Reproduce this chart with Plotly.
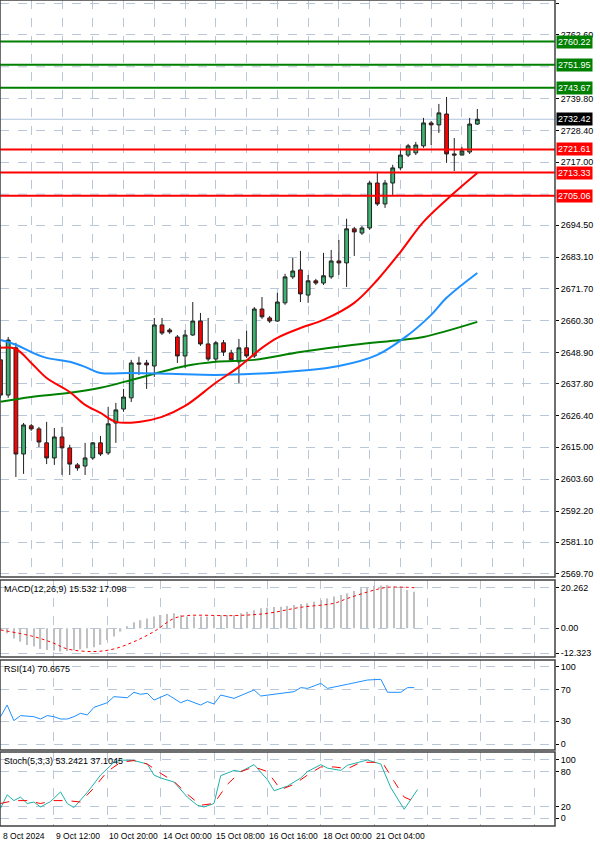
import plotly.graph_objects as go

# ---- price candles (4h) ----
opens = [2646.3, 2633.7, 2650.6, 2612.6, 2622.7, 2621.6, 2616.6, 2611.2, 2618.7, 2614.8,
         2608.7, 2608.3, 2611.2, 2616.6, 2613.0, 2623.7, 2628.7, 2632.7, 2645.2, 2645.2,
         2644.1, 2658.8, 2657.0, 2654.5, 2647.7, 2655.2, 2660.2, 2652.0, 2646.6, 2652.4,
         2648.8, 2645.6, 2650.6, 2647.7, 2664.5, 2661.3, 2660.2, 2666.7, 2676.0, 2678.5,
         2669.5, 2674.6, 2673.8, 2676.0, 2681.7, 2681.0, 2693.2, 2691.7, 2693.5, 2709.6,
         2702.1, 2709.6, 2715.0, 2719.6, 2720.4, 2722.9, 2731.1, 2730.4, 2734.3, 2720.0,
         2719.6, 2720.7, 2730.7]
highs = [2651.7, 2654.5, 2652.4, 2623.7, 2623.4, 2622.3, 2624.1, 2621.9, 2622.3, 2615.9,
         2609.4, 2616.6, 2616.9, 2619.1, 2629.5, 2630.9, 2635.9, 2646.3, 2647.4, 2646.3,
         2661.3, 2661.3, 2657.7, 2655.2, 2657.0, 2667.0, 2663.1, 2661.3, 2653.1, 2653.4,
         2649.9, 2653.8, 2656.7, 2665.2, 2668.8, 2662.0, 2670.3, 2677.1, 2682.8, 2685.3,
         2676.7, 2675.3, 2684.6, 2685.6, 2689.2, 2696.8, 2693.9, 2694.2, 2710.3, 2713.6,
         2710.7, 2716.1, 2721.4, 2723.6, 2724.3, 2732.9, 2731.8, 2737.9, 2740.4, 2725.7,
         2722.5, 2732.9, 2736.1]
lows = [2632.7, 2632.7, 2604.4, 2605.5, 2620.9, 2615.1, 2609.0, 2608.7, 2605.1, 2605.1,
        2606.6, 2605.1, 2610.5, 2611.9, 2612.3, 2616.6, 2627.7, 2631.2, 2640.9, 2635.9,
        2640.2, 2655.2, 2655.6, 2645.2, 2643.4, 2654.9, 2651.3, 2645.9, 2645.9, 2647.7,
        2645.6, 2638.0, 2647.0, 2647.0, 2661.0, 2659.5, 2659.9, 2666.0, 2675.3, 2667.0,
        2666.7, 2673.1, 2673.1, 2675.3, 2676.7, 2672.4, 2683.5, 2691.0, 2692.8, 2701.4,
        2700.7, 2705.0, 2714.3, 2718.9, 2719.6, 2722.2, 2723.2, 2727.5, 2716.8, 2713.9,
        2720.4, 2720.0, 2730.4]
closes = [2633.7, 2653.4, 2612.6, 2623.0, 2621.6, 2616.9, 2611.2, 2618.7, 2614.8, 2609.0,
          2607.6, 2611.2, 2616.6, 2612.6, 2623.4, 2628.4, 2633.0, 2645.2, 2644.8, 2644.5,
          2658.8, 2655.9, 2656.3, 2647.7, 2655.2, 2660.2, 2652.0, 2646.6, 2652.4, 2649.1,
          2646.3, 2650.6, 2647.7, 2664.5, 2661.7, 2660.2, 2667.0, 2676.0, 2678.1, 2669.9,
          2674.6, 2673.8, 2676.4, 2681.7, 2681.0, 2693.2, 2692.1, 2693.5, 2709.6, 2702.1,
          2709.6, 2715.0, 2719.6, 2722.9, 2723.2, 2731.1, 2730.4, 2734.7, 2720.0, 2719.6,
          2721.1, 2730.7, 2732.4]
idx = list(range(len(opens)))

# moving averages (index, value)
ma_red_x = [0, 2, 4, 6, 9, 11, 13, 15, 18, 21, 24, 28, 31, 34, 36, 39, 42, 46, 49, 52, 55, 59, 62]
ma_red_y = [2650.6, 2650.2, 2645.2, 2639.8, 2634.8, 2630.2, 2627.3, 2624.1, 2624.1, 2625.9, 2629.8,
            2638.1, 2643.8, 2650.6, 2654.2, 2657.7, 2660.6, 2666.7, 2674.9, 2684.9, 2695.7, 2706.1, 2713.2]
ma_blue_x = [0, 2, 4, 6, 9, 11, 13, 17, 22, 28, 33, 39, 44, 49, 53, 56, 58, 62]
ma_blue_y = [2653.4, 2651.7, 2649.1, 2647.0, 2645.6, 2643.8, 2641.6, 2641.6, 2641.3, 2640.9,
             2641.3, 2642.4, 2644.1, 2648.1, 2655.2, 2662.4, 2668.5, 2677.4]
ma_green_x = [0, 4, 9, 13, 17, 20, 24, 28, 33, 39, 46, 52, 55, 62]
ma_green_y = [2631.3, 2633.0, 2634.5, 2636.3, 2639.1, 2641.3, 2644.1, 2645.6, 2646.3, 2649.1,
              2651.7, 2653.4, 2654.5, 2659.9]

resist_levels = [2760.22, 2751.95, 2743.67]
support_levels = [2721.61, 2713.33, 2705.06]
last_price = 2732.42

price_ticks = [2773.70, 2762.60, 2739.80, 2728.40, 2717.00, 2694.50, 2683.10,
               2671.70, 2660.30, 2648.90, 2637.80, 2626.40, 2615.00, 2603.60, 2592.20, 2581.10, 2569.70]
grid_ticks = [2751.20, 2705.60]

# MACD
macd_hist = [-1, -2.5, -5, -6.6, -8.2, -9, -10.2, -10.7, -11, -11.5, -11.2, -10.7, -10.4, -9.9,
             -9.4, -8.2, -5.8, -4.1, -1.6, 1, 3, 4, 4.8, 5.8, 6.6, 7.1, 7.4, 6.6, 5.8, 5.8, 5.8,
             5.8, 5.8, 6.6, 6.6, 6.6, 7.4, 8.2, 9, 9.9, 10.2, 10.5, 10.7, 11.1, 11.5, 12, 12.4,
             13.2, 14, 14.8, 15.7, 16.5, 17.3, 18.5, 19.8, 20.4, 20.9, 21.2, 21.4, 20.6, 19.8, 19, 18.1]
macd_sig_x = [0, 5, 8, 10, 14, 17, 20, 23, 26, 28, 35, 40, 45, 50, 52, 56, 58, 62]
macd_sig_y = [-0.8, -4.1, -7.4, -10.2, -11.5, -10.2, -6.6, -1.6, 4.9, 6.3, 6.3, 7.4, 10.4, 12.4,
              14.8, 18.9, 20.3, 20.1]

# RSI
rsi_x = [0, 1, 2, 3, 5, 6, 7, 8, 9, 10, 11, 12, 13, 14, 16, 17, 19, 20, 21, 22, 23, 25, 27, 28,
         30, 31, 32, 33, 35, 38, 39, 41, 44, 45, 46, 48, 49, 52, 53, 55, 57, 58, 60, 61, 62]
rsi_y = [35.6, 50.6, 30.5, 37, 35.6, 32.6, 37, 35.6, 32.6, 32.6, 35.6, 40, 37.8, 47.6, 53.6, 61.4,
         60, 67, 64.4, 65.7, 57, 64.4, 53.6, 57, 50.6, 55, 52, 63.5, 59.2, 70, 62.2, 64.4, 67.8,
         73, 72, 78.5, 72, 77.3, 79.4, 82.8, 83.7, 67, 67, 73, 73]

# Stochastic
st_main_x = [0, 1, 2, 3, 4, 5, 6, 7.5, 9, 10, 11, 13, 15, 17, 18, 20, 22, 23, 24, 26, 28, 29.5,
             30.5, 32, 33, 35, 36, 38, 40, 41, 43, 45, 46, 48, 49, 51, 52, 55, 57, 58.5, 60.5, 62.5]
st_main_y = [16.5, 40, 30, 36, 25, 27.5, 19, 28.5, 45, 25, 18, 44, 74, 96, 100, 99, 93, 74, 69,
             62, 36, 22, 19, 25, 73, 82, 80, 92, 66, 47, 55, 69, 80, 92, 86, 82, 91, 100, 93, 52, 15, 49]
st_sig_x = [0, 2, 4, 6, 8, 10, 12, 14, 16, 18, 20, 22, 24, 26, 28, 30, 32, 34, 36, 38, 40, 42,
            44, 46, 48, 50, 52, 54, 56, 57.5, 59, 60.5, 61.75]
st_sig_y = [25, 30, 30, 25, 30, 30, 27.5, 52, 80, 96, 99, 93, 77, 63, 41, 22, 25, 58, 80, 88, 80,
            49, 58, 74, 88, 88, 85, 96, 96, 91, 63, 36, 30]

date_pos = [0, 8, 16, 24, 32, 40, 48, 56]
date_labels = ['8 Oct 2024', '9 Oct 12:00', '10 Oct 20:00', '14 Oct 00:00', '15 Oct 08:00',
               '16 Oct 16:00', '18 Oct 00:00', '21 Oct 04:00']

GRID = '#b9c7d9'
FONT = dict(family='Liberation Sans', size=9, color='black')
DATEFONT = dict(family='Liberation Sans', size=8.5, color='black')
BOXFONT = dict(family='Liberation Sans', size=9, color='white')

fig = go.Figure()

fig.add_trace(go.Candlestick(
  x=idx, open=opens, high=highs, low=lows, close=closes,
  increasing=dict(fillcolor='#3cb371', line=dict(color='#202020', width=1)),
  decreasing=dict(fillcolor='#ff0000', line=dict(color='#202020', width=1)),
  whiskerwidth=0, showlegend=False, xaxis='x', yaxis='y'
))
for xs, ys, col in [(ma_green_x, ma_green_y, '#008000'), (ma_blue_x, ma_blue_y, '#1e90ff'),
                    (ma_red_x, ma_red_y, '#ff0000')]:
  fig.add_trace(go.Scatter(x=xs, y=ys, mode='lines', line=dict(color=col, width=2, shape='spline'),
                           showlegend=False, xaxis='x', yaxis='y'))

fig.add_trace(go.Bar(x=idx, y=macd_hist, marker=dict(color='#c0c0c0', line=dict(width=0)),
                     width=0.2, showlegend=False, xaxis='x2', yaxis='y2'))
fig.add_trace(go.Scatter(x=macd_sig_x, y=macd_sig_y, mode='lines',
                         line=dict(color='#ff0000', width=1, dash='dot', shape='spline'),
                         showlegend=False, xaxis='x2', yaxis='y2'))
fig.add_trace(go.Scatter(x=rsi_x, y=rsi_y, mode='lines', line=dict(color='#1e90ff', width=1),
                         showlegend=False, xaxis='x3', yaxis='y3'))
fig.add_trace(go.Scatter(x=st_main_x, y=st_main_y, mode='lines', line=dict(color='#20b2aa', width=1),
                         showlegend=False, xaxis='x4', yaxis='y4'))
fig.add_trace(go.Scatter(x=st_sig_x, y=st_sig_y, mode='lines',
                         line=dict(color='#ff0000', width=1, dash='dash'),
                         showlegend=False, xaxis='x4', yaxis='y4'))

shapes = []
annotations = []
for g in grid_ticks:
  shapes.append(dict(type='line', xref='paper', x0=0, x1=1, yref='y', y0=g, y1=g, layer='below',
                     line=dict(color=GRID, width=1, dash='dash')))
for levels, col in [(resist_levels, '#008000'), (support_levels, '#ff0000')]:
  for lv in levels:
    shapes.append(dict(type='line', xref='paper', x0=0, x1=1, yref='y', y0=lv, y1=lv,
                       line=dict(color=col, width=2)))
    annotations.append(dict(xref='paper', x=1, yref='y', y=lv, text=f'{lv:.2f}', showarrow=False,
                            xanchor='left', xshift=1, bgcolor=col, borderpad=1, font=BOXFONT))
shapes.append(dict(type='line', xref='paper', x0=0, x1=1, yref='y', y0=last_price, y1=last_price,
                   line=dict(color='#b0c4de', width=1), layer='below'))
annotations.append(dict(xref='paper', x=1, yref='y', y=last_price, text=f'{last_price:.2f}',
                        showarrow=False, xanchor='left', xshift=1, bgcolor='black', borderpad=1,
                        font=BOXFONT))

# panel borders
for d0, d1 in [(0.3015, 1), (0.2046, 0.2978), (0.092, 0.201), (0, 0.0896)]:
  shapes.append(dict(type='rect', xref='paper', yref='paper', x0=0, x1=1, y0=d0, y1=d1,
                     line=dict(color='#404040', width=1.5)))

for txt, yy in [('MACD(12,26,9) 15.532 17.098', 0.2978), ('RSI(14) 70.6675', 0.201),
                ('Stoch(5,3,3) 53.2421 37.1045', 0.0896)]:
  annotations.append(dict(xref='paper', yref='paper', x=0.004, y=yy, yshift=-2, text=txt,
                          showarrow=False, xanchor='left', yanchor='top', font=FONT))
for p, lab in zip(date_pos, date_labels):
  annotations.append(dict(xref='x4', yref='paper', x=p, y=0, yshift=-3, text=lab, showarrow=False,
                          xanchor='left', yanchor='top', font=DATEFONT))

panel_x = dict(range=[-0.075, 83.1], showticklabels=False, showgrid=True, gridcolor=GRID,
               griddash='dash', tick0=0, dtick=8, zeroline=False, fixedrange=True)
yax = dict(side='right', showgrid=True, gridcolor=GRID, griddash='dash', zeroline=False,
           tickfont=FONT, ticks='outside', ticklen=3, tickcolor='black', tickmode='array')

fig.update_layout(
  width=600, height=848,
  plot_bgcolor='white', paper_bgcolor='white',
  margin=dict(l=0, r=45, t=0, b=22),
  showlegend=False,
  xaxis=dict(range=[-0.065, 72.1], showticklabels=False, showgrid=True, gridcolor=GRID,
             griddash='dash', tick0=0, dtick=4, zeroline=False, rangeslider=dict(visible=False),
             anchor='y'),
  yaxis=dict(yax, domain=[0.3015, 1], range=[2568.6, 2775.1], tickvals=price_ticks,
             ticktext=[f'{t:.2f}' for t in price_ticks], anchor='x'),
  xaxis2=dict(panel_x, anchor='y2'),
  yaxis2=dict(yax, domain=[0.2046, 0.2978], range=[-14.2, 23.9], tickvals=[20.262, 0, -12.323],
              ticktext=['20.262', '0.00', '-12.323'], anchor='x2'),
  xaxis3=dict(panel_x, anchor='y3'),
  yaxis3=dict(yax, domain=[0.092, 0.201], range=[-7.3, 108.6], tickvals=[100, 70, 30, 0],
              ticktext=['100', '70', '30', '0'], anchor='x3'),
  xaxis4=dict(panel_x, anchor='y4'),
  yaxis4=dict(yax, domain=[0, 0.0896], range=[-13.8, 113.8], tickvals=[100, 80, 20, 0],
              ticktext=['100', '80', '20', '0'], anchor='x4'),
  shapes=shapes,
  annotations=annotations,
)

fig.write_html('out.html', config=dict(displayModeBar=False),
               post_script="document.body.style.margin='0';document.body.style.overflow='hidden';")
